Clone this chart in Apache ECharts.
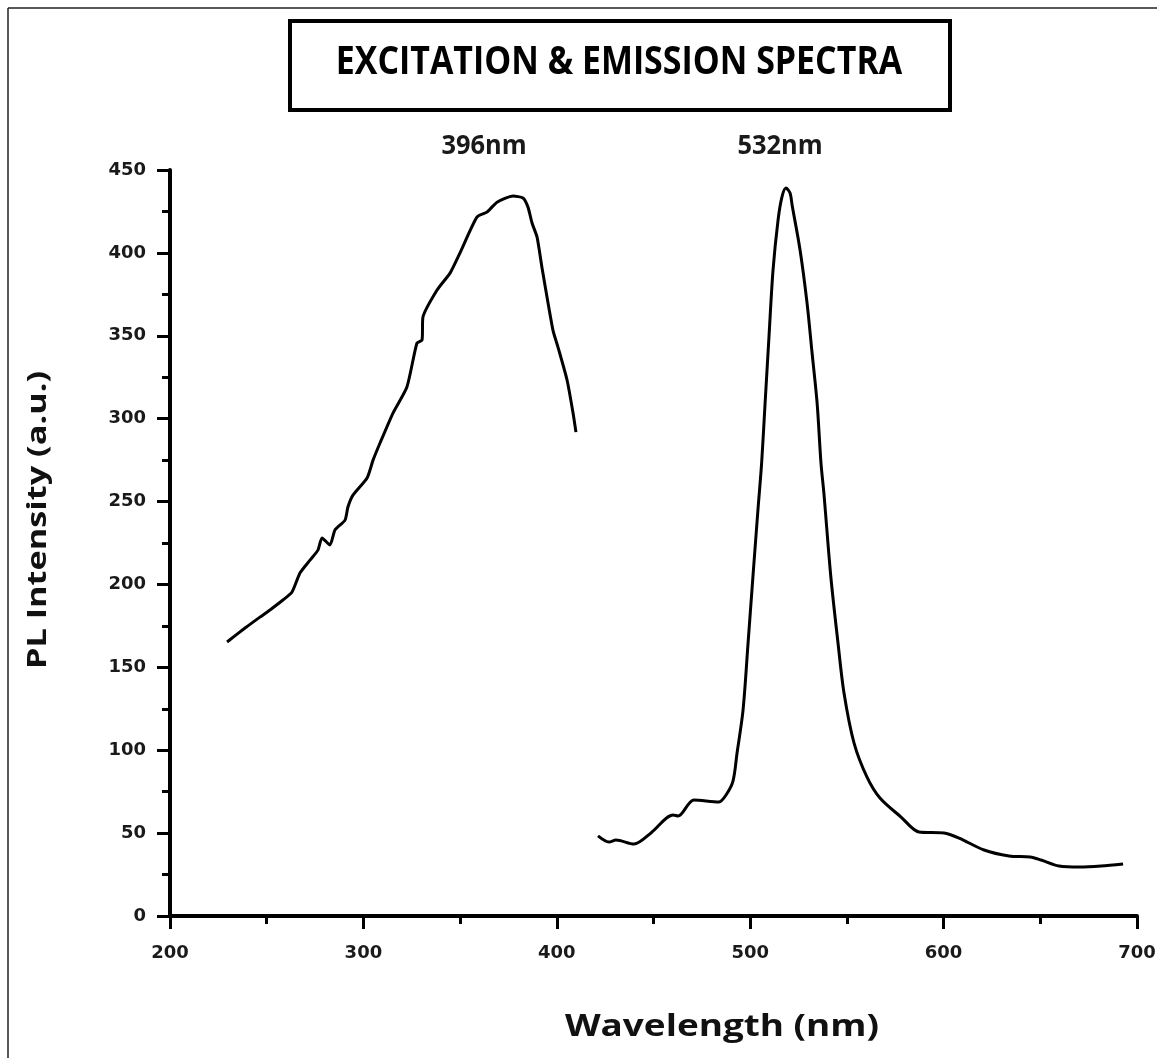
<!DOCTYPE html>
<html>
<head>
<meta charset="utf-8">
<script src="https://cdn.jsdelivr.net/npm/echarts@6/dist/echarts.min.js"></script>
<style>
html,body{margin:0;padding:0;background:#fff;}
#chart{width:1161px;height:1058px;}
</style>
</head>
<body>
<div id="chart"></div>
<script>
// ---- data ----
var titleText = 'EXCITATION & EMISSION SPECTRA';
var peakLabels = ['396nm', '532nm'];
var xAxisName = 'Wavelength (nm)';
var yAxisName = 'PL Intensity (a.u.)';

var excitationWavelength = [229.5, 238.8, 246.5, 251.7, 258.4, 263.1, 267.2, 272.4, 276.5, 278.6, 282.7, 285.3, 290.5, 292.0, 294.6, 301.9, 305.0, 308.6, 315.3, 322.5, 327.7, 330.3, 330.8, 338.1, 344.8, 349.9, 358.7, 363.9, 369.1, 377.4, 382.5, 385.1, 387.2, 389.8, 392.3, 398.0, 400.6, 405.3, 408.4, 409.9];
var excitationIntensity = [165.3, 173.7, 180.3, 184.6, 190.6, 195.4, 206.9, 214.7, 220.7, 228.0, 223.8, 232.8, 238.8, 246.7, 253.9, 264.2, 275.0, 285.3, 303.4, 319.1, 345.6, 347.4, 361.3, 377.6, 387.8, 399.9, 421.6, 424.6, 430.6, 434.3, 433.1, 427.6, 418.0, 409.5, 391.4, 353.4, 343.2, 323.3, 303.4, 291.9];

var emissionWavelength = [421.3, 427.0, 430.6, 439.9, 448.7, 460.1, 462.7, 470.9, 483.9, 487.5, 491.1, 493.2, 496.3, 498.9, 501.4, 504.0, 505.9, 507.7, 509.7, 511.8, 514.4, 516.4, 518.5, 520.6, 521.7, 525.8, 529.4, 532.0, 534.6, 536.6, 538.1, 541.7, 545.4, 548.5, 553.7, 560.4, 567.1, 578.0, 587.3, 600.2, 608.0, 620.9, 633.8, 644.7, 650.4, 659.7, 670.5, 681.4, 692.8];
var emissionIntensity = [48.3, 44.6, 45.8, 43.4, 50.1, 60.9, 60.3, 70.0, 68.8, 73.0, 81.4, 98.3, 124.2, 164.7, 204.5, 244.9, 273.0, 309.4, 349.2, 389.6, 419.8, 433.7, 439.1, 436.1, 428.6, 401.6, 369.7, 339.6, 309.4, 273.2, 255.1, 204.5, 164.7, 134.5, 104.3, 83.8, 71.2, 59.7, 50.7, 50.1, 47.0, 39.8, 36.2, 35.6, 33.8, 30.2, 29.6, 30.2, 31.4];

var xMin = 200, xMax = 700, xInterval = 100;
var yMin = 0, yMax = 450, yInterval = 50;

function pairs(xs, ys) {
  var out = [];
  for (var i = 0; i < xs.length; i++) out.push([xs[i], ys[i]]);
  return out;
}

var chart = echarts.init(document.getElementById('chart'), null, {renderer: 'canvas'});

var tickFont = {color: '#1a1a1a', fontFamily: 'DejaVu Sans', fontWeight: 'bold', fontSize: 18};

chart.setOption({
  animation: false,
  backgroundColor: '#ffffff',
  grid: {left: 170, right: 24, top: 170, bottom: 142, containLabel: false},
  xAxis: {
    type: 'value', min: xMin, max: xMax, interval: xInterval,
    axisLine: {show: true, onZero: false, lineStyle: {color: '#000', width: 4}},
    axisTick: {show: true, inside: false, length: 13, lineStyle: {color: '#000', width: 3}},
    minorTick: {show: true, splitNumber: 2, length: 8, lineStyle: {color: '#000', width: 3}},
    splitLine: {show: false},
    axisLabel: Object.assign({margin: 28}, tickFont)
  },
  yAxis: {
    type: 'value', min: yMin, max: yMax, interval: yInterval,
    axisLine: {show: true, onZero: false, lineStyle: {color: '#000', width: 4}},
    axisTick: {show: true, inside: false, length: 13, lineStyle: {color: '#000', width: 3}},
    minorTick: {show: true, splitNumber: 2, length: 8, lineStyle: {color: '#000', width: 3}},
    splitLine: {show: false},
    axisLabel: Object.assign({margin: 24}, tickFont)
  },
  series: [
    {
      name: 'Excitation', type: 'line', showSymbol: false, symbol: 'none', smooth: 0.2,
      lineStyle: {color: '#000', width: 3},
      data: pairs(excitationWavelength, excitationIntensity)
    },
    {
      name: 'Emission', type: 'line', showSymbol: false, symbol: 'none', smooth: 0.3,
      lineStyle: {color: '#000', width: 3},
      data: pairs(emissionWavelength, emissionIntensity)
    }
  ],
  graphic: [
    {type: 'line', shape: {x1: 8, y1: 8, x2: 1157, y2: 8}, style: {stroke: '#222', lineWidth: 1.5}},
    {type: 'line', shape: {x1: 8, y1: 8, x2: 8, y2: 1058}, style: {stroke: '#222', lineWidth: 1.5}},
    {type: 'rect', shape: {x: 290, y: 21, width: 660, height: 89}, style: {fill: '#fff', stroke: '#000', lineWidth: 4}},
    {type: 'text', x: 619, y: 63, scaleX: 0.87, style: {text: titleText, fill: '#000', font: 'bold 39px "Open Sans", sans-serif', textAlign: 'center', textVerticalAlign: 'middle'}},
    {type: 'text', x: 484, y: 146, scaleX: 0.94, style: {text: peakLabels[0], fill: '#1a1a1a', font: 'bold 27px "Open Sans", sans-serif', textAlign: 'center', textVerticalAlign: 'middle'}},
    {type: 'text', x: 780, y: 146, scaleX: 0.94, style: {text: peakLabels[1], fill: '#1a1a1a', font: 'bold 27px "Open Sans", sans-serif', textAlign: 'center', textVerticalAlign: 'middle'}},
    {type: 'text', x: 722, y: 1027, scaleX: 1.19, style: {text: xAxisName, fill: '#111', font: 'bold 31px "Open Sans", sans-serif', textAlign: 'center', textVerticalAlign: 'middle'}},
    {type: 'text', x: 38, y: 520, rotation: Math.PI / 2, scaleX: 1.27, style: {text: yAxisName, fill: '#111', font: 'bold 27px "Open Sans", sans-serif', textAlign: 'center', textVerticalAlign: 'middle'}}
  ]
});
</script>
</body>
</html>
